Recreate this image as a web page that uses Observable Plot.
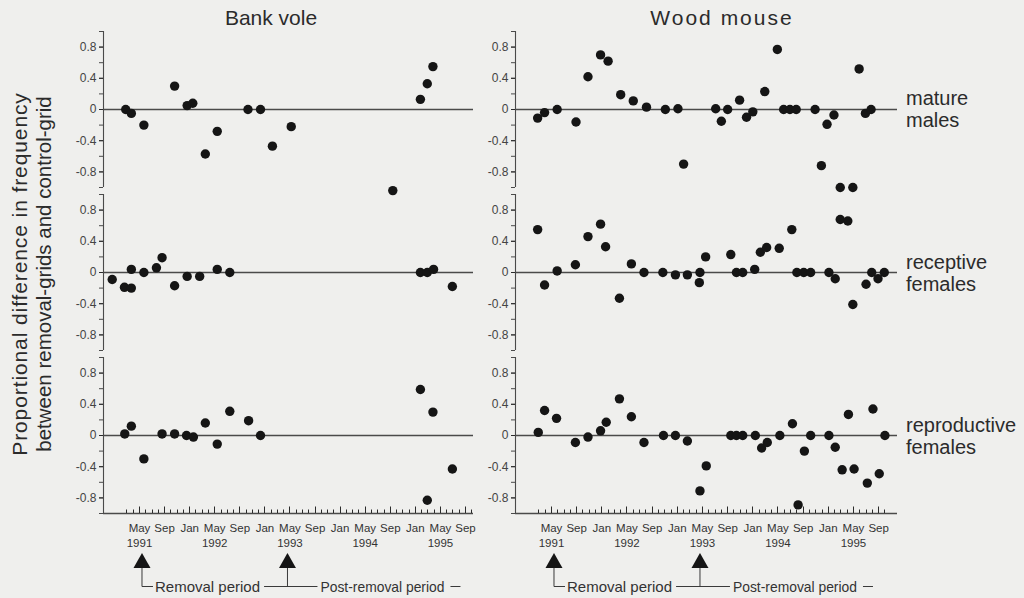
<!DOCTYPE html>
<html><head><meta charset="utf-8">
<script src="https://cdn.jsdelivr.net/npm/d3@7"></script>
<script src="https://cdn.jsdelivr.net/npm/@observablehq/plot@0.6"></script>
<style>
html,body{margin:0;padding:0;background:#efefed;}
#chart{position:relative;width:1024px;height:598px;overflow:hidden;font-family:"Liberation Sans",Arial,sans-serif;color:#2b2b2b;}
#chart svg{position:absolute;overflow:visible;}
.t{position:absolute;white-space:nowrap;line-height:22px;}
</style></head><body><div id="chart"></div>
<script>
// ---- data (month index: 0 = Jan 1991) ----
const species = ["Bank vole", "Wood mouse"];
const groups = [["mature", "males"], ["receptive", "females"], ["reproductive", "females"]];

const bvMalesMonth = [1.8, 2.7, 4.7, 9.6, 11.6, 12.5, 14.5, 16.4, 21.3, 23.3, 25.2, 28.2, 44.4, 48.8, 49.9, 50.8];
const bvMalesValue = [0, -0.05, -0.2, 0.3, 0.05, 0.08, -0.57, -0.28, 0, 0, -0.47, -0.22, -1.04, 0.13, 0.33, 0.55];

const bvReceptiveMonth = [-0.35, 1.6, 2.7, 2.7, 4.7, 6.7, 7.6, 9.6, 11.6, 13.6, 16.4, 18.4, 48.8, 49.9, 50.9, 53.9];
const bvReceptiveValue = [-0.09, -0.19, 0.04, -0.2, 0, 0.06, 0.19, -0.17, -0.05, -0.05, 0.04, 0, 0, 0, 0.04, -0.18];

const bvReproMonth = [1.65, 2.7, 4.7, 7.6, 9.6, 11.5, 12.6, 14.5, 16.4, 18.4, 21.4, 23.3, 48.8, 49.9, 50.8, 53.9];
const bvReproValue = [0.02, 0.12, -0.3, 0.02, 0.02, 0, -0.02, 0.16, -0.11, 0.31, 0.19, 0, 0.59, -0.83, 0.3, -0.43];

const wmMalesMonth = [1.8, 2.9, 4.9, 7.9, 9.8, 11.8, 13.0, 15.0, 17.0, 19.1, 22.1, 24.1, 25.0, 30.1, 31.0, 32.0, 33.9, 35.0, 36.0, 37.9, 39.9, 40.9, 41.9, 42.9, 45.9, 46.9, 47.8, 48.9, 49.9, 51.9, 52.9, 53.9, 54.8];
const wmMalesValue = [-0.11, -0.04, 0, -0.16, 0.42, 0.7, 0.62, 0.19, 0.11, 0.03, 0, 0.01, -0.7, 0.01, -0.15, 0, 0.12, -0.1, -0.03, 0.23, 0.77, 0, 0, 0, 0, -0.72, -0.19, -0.07, -1.0, -1.0, 0.52, -0.05, 0];

const wmReceptiveMonth = [1.8, 2.9, 4.9, 7.8, 9.8, 11.8, 12.6, 14.8, 16.7, 18.7, 21.7, 23.7, 25.6, 27.6, 27.5, 28.5, 32.5, 33.4, 34.4, 36.3, 37.2, 38.2, 40.2, 42.2, 43.0, 44.1, 45.2, 48.1, 49.1, 49.9, 51.1, 51.9, 54.0, 54.9, 55.9, 56.9];
const wmReceptiveValue = [0.55, -0.16, 0.02, 0.1, 0.46, 0.62, 0.33, -0.33, 0.11, 0, 0, -0.03, -0.03, 0, -0.13, 0.2, 0.23, 0, 0, 0.04, 0.26, 0.32, 0.31, 0.55, 0, 0, 0, 0, -0.08, 0.68, 0.66, -0.41, -0.15, 0, -0.08, 0];

const wmReproMonth = [1.9, 2.9, 4.8, 7.8, 9.8, 11.8, 12.7, 14.8, 16.7, 18.7, 21.8, 23.7, 25.6, 27.6, 28.6, 32.5, 33.4, 34.4, 36.4, 37.4, 38.3, 40.3, 42.3, 43.2, 44.2, 45.2, 48.1, 49.1, 50.2, 51.2, 52.1, 54.2, 55.1, 56.1, 57.0];
const wmReproValue = [0.04, 0.32, 0.22, -0.09, -0.02, 0.06, 0.17, 0.47, 0.24, -0.09, 0, 0, -0.07, -0.71, -0.39, 0, 0, 0, 0, -0.16, -0.09, 0, 0.15, -0.89, -0.2, 0, 0, -0.15, -0.44, 0.27, -0.43, -0.61, 0.34, -0.49, 0];

const yTicks = [-0.8, -0.4, 0, 0.4, 0.8];
const yTickLabels = ["-0.8", "-0.4", "0", "0.4", "0.8"];
const yMinorTicks = [-1, -0.8, -0.6, -0.4, -0.2, 0, 0.2, 0.4, 0.6, 0.8, 1];
const monthTicks = d3.range(2, 58);
const monthMajor = [4, 8, 12, 16, 20, 24, 28, 32, 36, 40, 44, 48, 52, 56];
const monthLabels = ["May", "Sep", "Jan", "May", "Sep", "Jan", "May", "Sep", "Jan", "May", "Sep", "Jan", "May", "Sep"];
const yearTicks = [4, 16, 28, 40, 52];
const yearLabels = ["1991", "1992", "1993", "1994", "1995"];
const removalStart = 4, postRemovalStart = 28;
const yTitle = ["Proportional difference in frequency", "between removal-grids and control-grid"];

// ---- layout ----
const chart = document.getElementById("chart");
const cols = [
  {left: 60, ml: 43, width: 417, domain: [-1.74, 57.27]},
  {left: 470, ml: 45, width: 431, domain: [-1.72, 59.0]}
];
const rowTops = [31, 194, 357];
const frameH = 156, mt = 10;

const series = [
  [[bvMalesMonth, bvMalesValue], [bvReceptiveMonth, bvReceptiveValue], [bvReproMonth, bvReproValue]],
  [[wmMalesMonth, wmMalesValue], [wmReceptiveMonth, wmReceptiveValue], [wmReproMonth, wmReproValue]]
];

const axisColor = "#4a4a4a";
const textColor = "#333";

function panel(ci, ri) {
  const c = cols[ci];
  const bottom = ri === 2;
  const mb = bottom ? 598 - (rowTops[ri] + frameH) : 6;
  const [ms, vs] = series[ci][ri];
  const pts = ms.map((m, i) => ({m, v: vs[i]}));
  const marks = [
    Plot.ruleY([0], {stroke: axisColor, strokeWidth: 1.3}),
    Plot.ruleX([c.domain[0]], {y1: -1, y2: 1, stroke: axisColor, strokeWidth: 1.1}),
    Plot.axisY(yMinorTicks, {tickSize: 4, tickFormat: () => "", stroke: axisColor}),
    Plot.axisY(yTicks, {tickSize: 4, tickPadding: 3, tickFormat: d => yTickLabels[yTicks.indexOf(d)], fill: "#444", fontSize: 12})
  ];
  if (bottom) {
    marks.push(
      Plot.ruleY([-1], {stroke: axisColor, strokeWidth: 1.3}),
      Plot.axisX(monthMajor, {tickSize: 0, tickPadding: 10, tickFormat: d => monthLabels[monthMajor.indexOf(d)], fill: textColor, fontSize: 11.5}),
      Plot.axisX(yearTicks, {tickSize: 0, tickPadding: 25, tickFormat: d => yearLabels[yearTicks.indexOf(d)], fill: textColor, fontSize: 11.5})
    );
  }
  marks.push(Plot.dot(pts, {x: "m", y: "v", r: 4.7, fill: "#151515", stroke: "none"}));
  const p = Plot.plot({
    width: c.width,
    height: mt + frameH + mb,
    marginLeft: c.ml, marginRight: 4, marginTop: mt, marginBottom: mb,
    style: {background: "transparent", overflow: "visible", fontFamily: "'Liberation Sans', Arial, sans-serif"},
    x: {domain: c.domain, label: null, axis: null},
    y: {domain: [-1, 1], label: null, axis: null},
    marks
  });
  p.style.left = c.left + "px";
  p.style.top = (rowTops[ri] - mt) + "px";
  p.style.maxWidth = "none";
  chart.appendChild(p);
  if (bottom) annotate(p);
  return p;
}

function annotate(p) {
  const xs = p.scale("x"), ys = p.scale("y");
  const base = ys.apply(-1);
  const svg = d3.select(p);
  // month ticks on the x axis, pointing up (minor every month, major every 4 months)
  const tickPath = monthTicks.map(m => {
    const x = Math.round(xs.apply(m)) + 0.5;
    const len = monthMajor.includes(m) ? 6.5 : 3.5;
    return `M${x},${base}v${-len}`;
  }).join("");
  svg.append("path").attr("d", tickPath).attr("fill", "none").attr("stroke", "#2a2a2a").attr("stroke-width", 1);

  const g = svg.append("g").attr("fill", textColor).attr("stroke", "#3a3a3a").attr("text-anchor", "start");
  const a1 = xs.apply(removalStart) + 3, a2 = xs.apply(postRemovalStart) - 2;
  const tri = (cx) => g.append("path").attr("d", `M${cx},${base + 40}L${cx + 8.5},${base + 55}L${cx - 8.5},${base + 55}Z`).attr("fill", "#151515").attr("stroke", "none");
  tri(a1); tri(a2);
  const ly = base + 73.5;
  g.append("path").attr("d", `M${a1},${base + 55}V${ly}H${a1 + 11}`).attr("fill", "none").attr("stroke-width", 1);
  const t1 = g.append("text").attr("x", a1 + 13).attr("y", ly + 5.5).attr("stroke", "none").attr("font-size", 15).text("Removal period");
  const w1 = t1.node().getComputedTextLength();
  const postX = a2 + 33;
  g.append("path").attr("d", `M${a1 + 13 + w1 + 4},${ly}H${postX - 3}M${a2},${base + 55}V${ly}`).attr("fill", "none").attr("stroke-width", 1);
  const w2 = 124;
  g.append("text").attr("x", postX).attr("y", ly + 5.5).attr("stroke", "none").attr("font-size", 15)
    .attr("textLength", w2).attr("lengthAdjust", "spacingAndGlyphs").text("Post-removal period");
  g.append("path").attr("d", `M${postX + w2 + 6},${ly}H${postX + w2 + 16}`).attr("fill", "none").attr("stroke-width", 1);
}

for (let ci = 0; ci < 2; ci++) for (let ri = 0; ri < 3; ri++) panel(ci, ri);

// titles and labels
function addText(txt, style) {
  const d = document.createElement("div");
  d.className = "t";
  Object.assign(d.style, style);
  d.innerHTML = txt;
  chart.appendChild(d);
  return d;
}
addText(species[0], {left: "171px", width: "200px", textAlign: "center", top: "7px", fontSize: "21px"});
addText(species[1], {left: "622px", width: "200px", textAlign: "center", top: "7px", fontSize: "21px", letterSpacing: "2px"});
const labelTops = [87, 251, 414];
groups.forEach((g, i) => addText(g.join("<br>"), {left: "906px", top: labelTops[i] + "px", fontSize: "20px"}));
addText(`<span style="font-size:21px;letter-spacing:0.9px">${yTitle[0]}</span><br><span style="font-size:20.5px">${yTitle[1]}</span>`,
  {left: (33 - 210) + "px", top: (272 - 22) + "px", width: "420px", textAlign: "center", transform: "rotate(-90deg)"});
</script></body></html>
